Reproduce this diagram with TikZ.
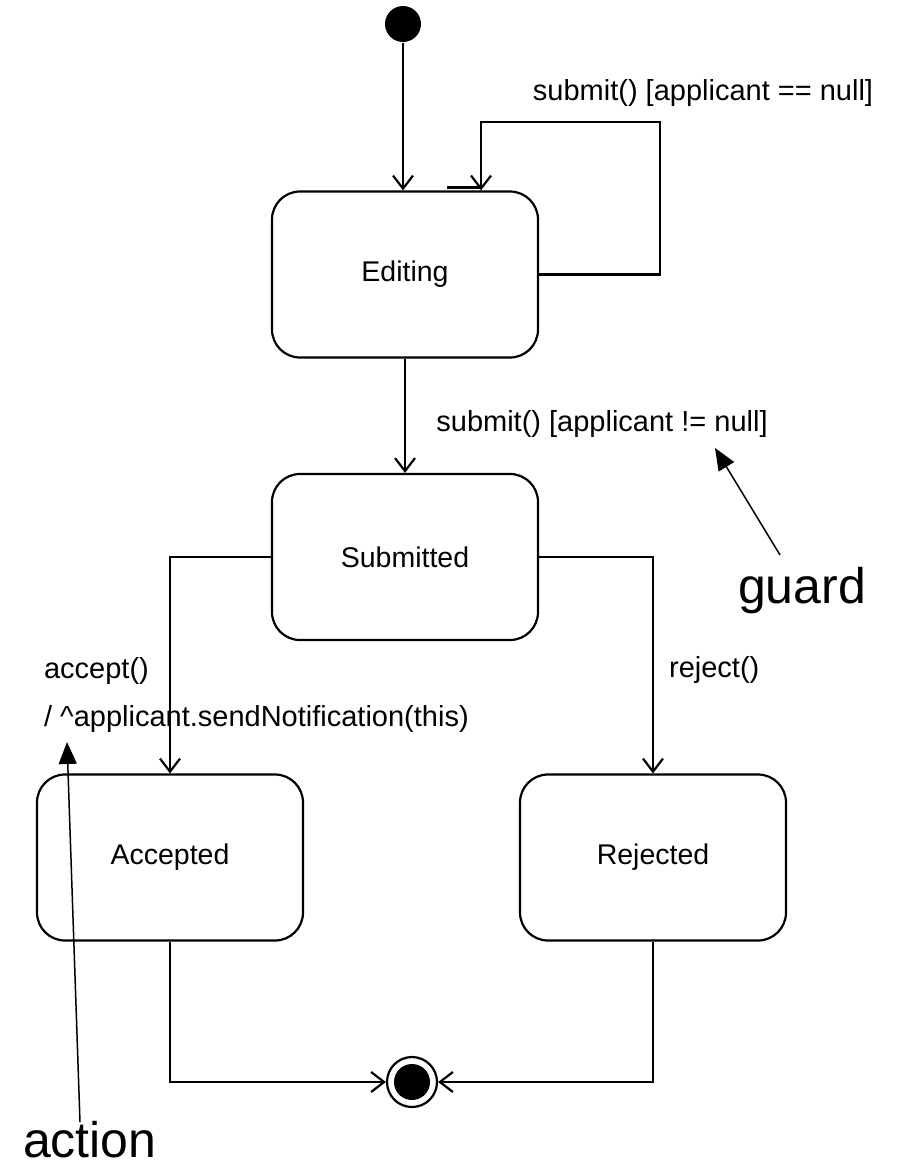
\documentclass[tikz,border=0pt]{standalone}
\usepackage{fontspec}
\setmainfont{Liberation Sans}
\usetikzlibrary{arrows.meta}

\begin{document}
\begin{tikzpicture}[x=1pt, y=-1pt, line width=2.2pt,
  state/.style={draw, rounded corners=28pt, minimum width=266pt, minimum height=166pt, font=\fontsize{28.5}{34}\selectfont},
  lbl/.style={font=\fontsize{29}{48}\selectfont, inner sep=0pt},
  note/.style={font=\fontsize{50}{60}\selectfont, inner sep=0pt},
  trans/.style={-{Straight Barb[length=13pt, width=20pt]}},
  point/.style={-{Triangle[length=22pt, width=18pt]}, line width=1.5pt}]
  \useasboundingbox (0,0) rectangle (897,1170);

  % Nodes
  \node[circle, fill, minimum size=36pt, inner sep=0pt] (init) at (403,24) {};
  \node[state] (editing) at (405,274.5) {Editing};
  \node[state] (submitted) at (405,557) {Submitted};
  \node[state] (accepted) at (170,857.5) {Accepted};
  \node[state] (rejected) at (653,857.5) {Rejected};
  \node[circle, draw, minimum size=50pt, inner sep=0pt] (final) at (412,1082) {};
  \node[circle, fill, minimum size=36pt, inner sep=0pt] (finaldot) at (final) {};

  % Labels
  \node[lbl] (looplbl) at (703,93) {submit() [applicant == null]};
  \node[lbl] (guardlbl) at (602,424) {submit() [applicant != null]};
  \node[lbl, anchor=west, align=left] (acceptlbl) at (43,695) {accept()\\/ \textasciicircum applicant.sendNotification(this)};
  \node[lbl, anchor=west] (rejectlbl) at (668,670) {reject()};
  \node[note, anchor=base west] (guard) at (737,603) {guard};
  \node[note, anchor=base west] (action) at (22,1157) {action};

  \coordinate (loop) at (660,122);
  \coordinate (guardtail) at (780,555);
  \coordinate (guardtip) at (715,448);
  \coordinate (actiontail) at (80,1122);
  \coordinate (actiontip) at (67,742);

  % Edges
  \draw[trans] (init) -- (init |- editing.north);
  \draw[trans] (editing.east) -| (loop) -| ([xshift=76pt]editing.north);
  \draw[line width=3pt] ([shift={(42pt,2.5pt)}]editing.north) -- ([shift={(76pt,2.5pt)}]editing.north);
  \draw[trans] (editing) -- (submitted);
  \draw[trans] (submitted.west) -| (accepted.north);
  \draw[trans] (submitted.east) -| (rejected.north);
  \draw[trans] (accepted.south) |- (final.west);
  \draw[trans] (rejected.south) |- (final.east);

  % Notes
  \draw[point] (guardtail) -- (guardtip);
  \draw[point] (actiontail) -- (actiontip);
\end{tikzpicture}
\end{document}
